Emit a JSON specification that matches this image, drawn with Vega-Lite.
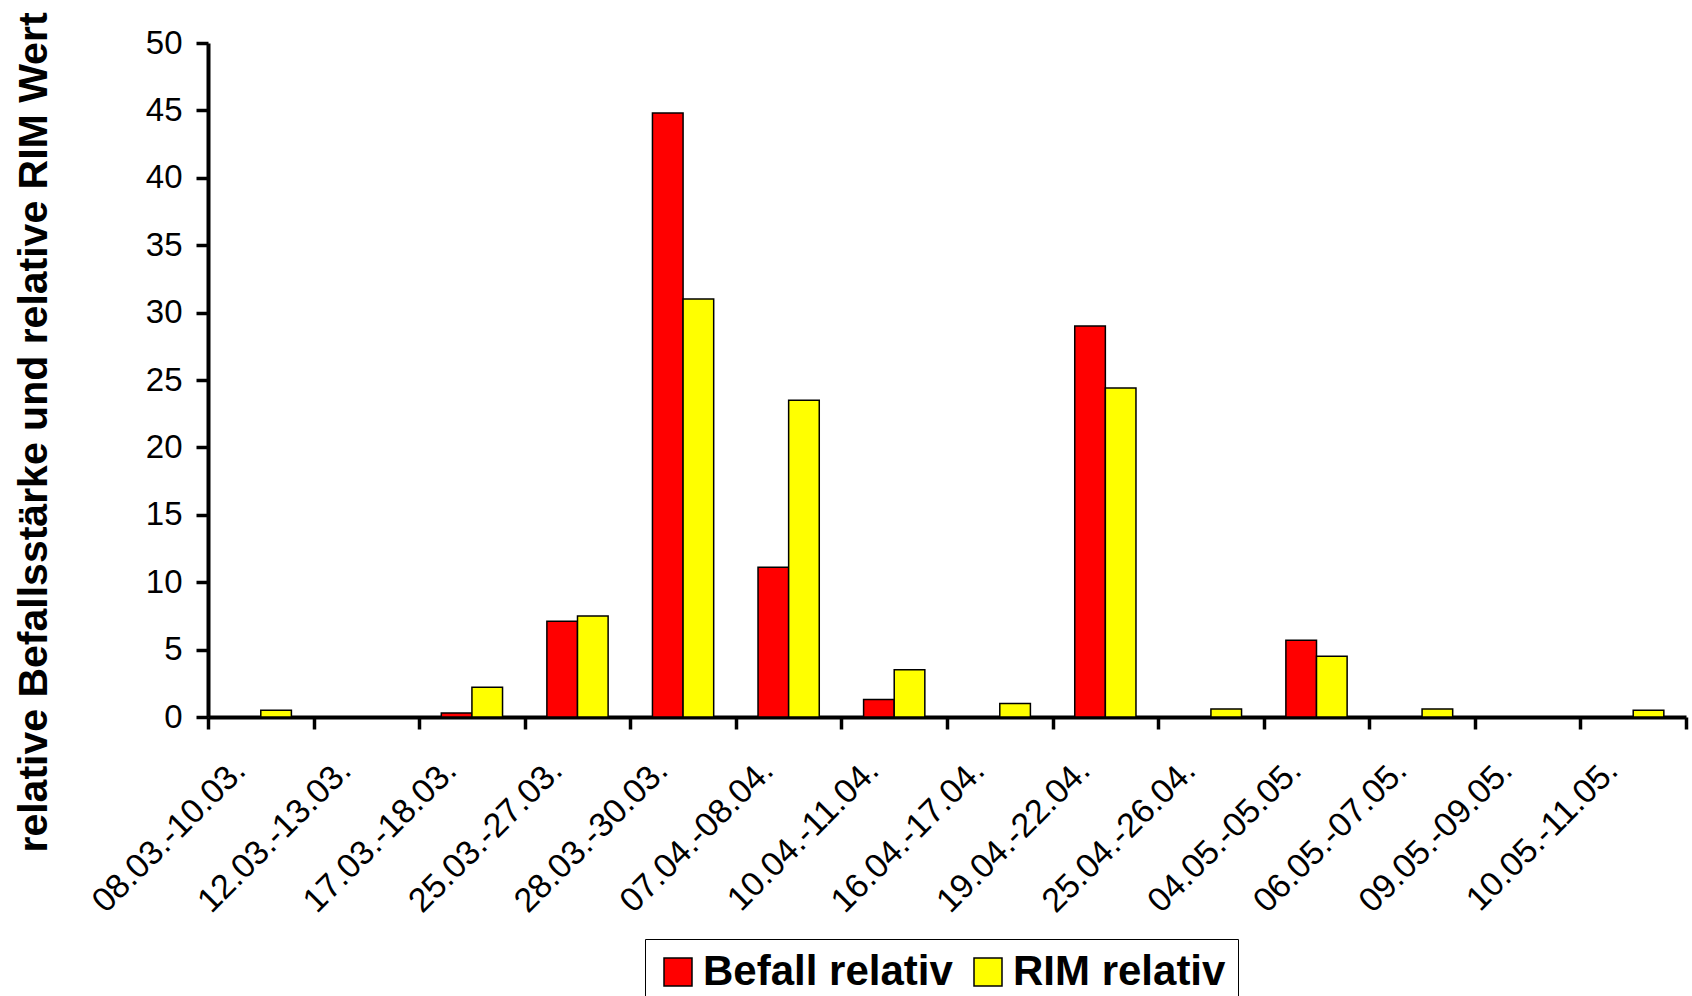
{
  "$schema": "https://vega.github.io/schema/vega-lite/v6.json",
  "width": 1478,
  "height": 674,
  "autosize": {"type": "none"},
  "padding": {"left": 208, "top": 43, "right": 6, "bottom": 279},
  "background": "white",
  "config": {
    "view": {"stroke": null},
    "font": "Liberation Sans"
  },
  "data": {
    "values": [
      {"period": "08.03.-10.03.", "series": "Befall relativ", "value": 0},
      {"period": "08.03.-10.03.", "series": "RIM relativ", "value": 0.5},
      {"period": "12.03.-13.03.", "series": "Befall relativ", "value": 0},
      {"period": "12.03.-13.03.", "series": "RIM relativ", "value": 0},
      {"period": "17.03.-18.03.", "series": "Befall relativ", "value": 0.3},
      {"period": "17.03.-18.03.", "series": "RIM relativ", "value": 2.2},
      {"period": "25.03.-27.03.", "series": "Befall relativ", "value": 7.1},
      {"period": "25.03.-27.03.", "series": "RIM relativ", "value": 7.5},
      {"period": "28.03.-30.03.", "series": "Befall relativ", "value": 44.8},
      {"period": "28.03.-30.03.", "series": "RIM relativ", "value": 31.0},
      {"period": "07.04.-08.04.", "series": "Befall relativ", "value": 11.1},
      {"period": "07.04.-08.04.", "series": "RIM relativ", "value": 23.5},
      {"period": "10.04.-11.04.", "series": "Befall relativ", "value": 1.3},
      {"period": "10.04.-11.04.", "series": "RIM relativ", "value": 3.5},
      {"period": "16.04.-17.04.", "series": "Befall relativ", "value": 0},
      {"period": "16.04.-17.04.", "series": "RIM relativ", "value": 1.0},
      {"period": "19.04.-22.04.", "series": "Befall relativ", "value": 29.0},
      {"period": "19.04.-22.04.", "series": "RIM relativ", "value": 24.4},
      {"period": "25.04.-26.04.", "series": "Befall relativ", "value": 0},
      {"period": "25.04.-26.04.", "series": "RIM relativ", "value": 0.6},
      {"period": "04.05.-05.05.", "series": "Befall relativ", "value": 5.7},
      {"period": "04.05.-05.05.", "series": "RIM relativ", "value": 4.5},
      {"period": "06.05.-07.05.", "series": "Befall relativ", "value": 0},
      {"period": "06.05.-07.05.", "series": "RIM relativ", "value": 0.6},
      {"period": "09.05.-09.05.", "series": "Befall relativ", "value": 0},
      {"period": "09.05.-09.05.", "series": "RIM relativ", "value": 0},
      {"period": "10.05.-11.05.", "series": "Befall relativ", "value": 0},
      {"period": "10.05.-11.05.", "series": "RIM relativ", "value": 0.5}
    ]
  },
  "mark": {"type": "bar", "stroke": "black", "strokeWidth": 1.5},
  "encoding": {
    "x": {
      "field": "period",
      "type": "nominal",
      "sort": null,
      "scale": {"paddingInner": 0, "paddingOuter": 0},
      "axis": {
        "title": null,
        "labelAngle": -45,
        "labelAlign": "right",
        "labelBaseline": "middle",
        "labelFontSize": 34,
        "labelColor": "black",
        "labelPadding": 36,
        "labelOffset": -21,
        "labelLimit": 400,
        "tickBand": "extent",
        "tickSize": 12,
        "tickWidth": 3.5,
        "tickColor": "black",
        "domainColor": "black",
        "domainWidth": 4,
        "grid": false
      }
    },
    "xOffset": {
      "field": "series",
      "type": "nominal",
      "sort": ["Befall relativ", "RIM relativ"],
      "scale": {"paddingInner": 0, "paddingOuter": 0.724}
    },
    "y": {
      "field": "value",
      "type": "quantitative",
      "scale": {"domain": [0, 50], "nice": false},
      "axis": {
        "title": "relative Befallsstärke und relative RIM Wert",
        "titleFontSize": 41,
        "titleFontWeight": "bold",
        "titleColor": "black",
        "titleAngle": -90,
        "titleAlign": "center",
        "titleBaseline": "alphabetic",
        "titleX": -162,
        "titleY": 389,
        "values": [0, 5, 10, 15, 20, 25, 30, 35, 40, 45, 50],
        "labelFontSize": 33,
        "labelColor": "black",
        "labelPadding": 14,
        "tickSize": 12,
        "tickWidth": 3.5,
        "tickColor": "black",
        "domainColor": "black",
        "domainWidth": 4,
        "grid": false
      }
    },
    "color": {
      "field": "series",
      "type": "nominal",
      "sort": ["Befall relativ", "RIM relativ"],
      "scale": {"domain": ["Befall relativ", "RIM relativ"], "range": ["#FF0000", "#FFFF00"]},
      "legend": {
        "title": null,
        "orient": "none",
        "legendX": 437,
        "legendY": 896,
        "direction": "horizontal",
        "symbolType": "square",
        "symbolSize": 784,
        "symbolStrokeColor": "black",
        "symbolStrokeWidth": 1.5,
        "symbolOpacity": 1,
        "labelFontSize": 42,
        "labelFontWeight": "bold",
        "labelColor": "black",
        "labelLimit": 500,
        "columnPadding": 14,
        "padding": 12,
        "strokeColor": "black"
      }
    }
  }
}
